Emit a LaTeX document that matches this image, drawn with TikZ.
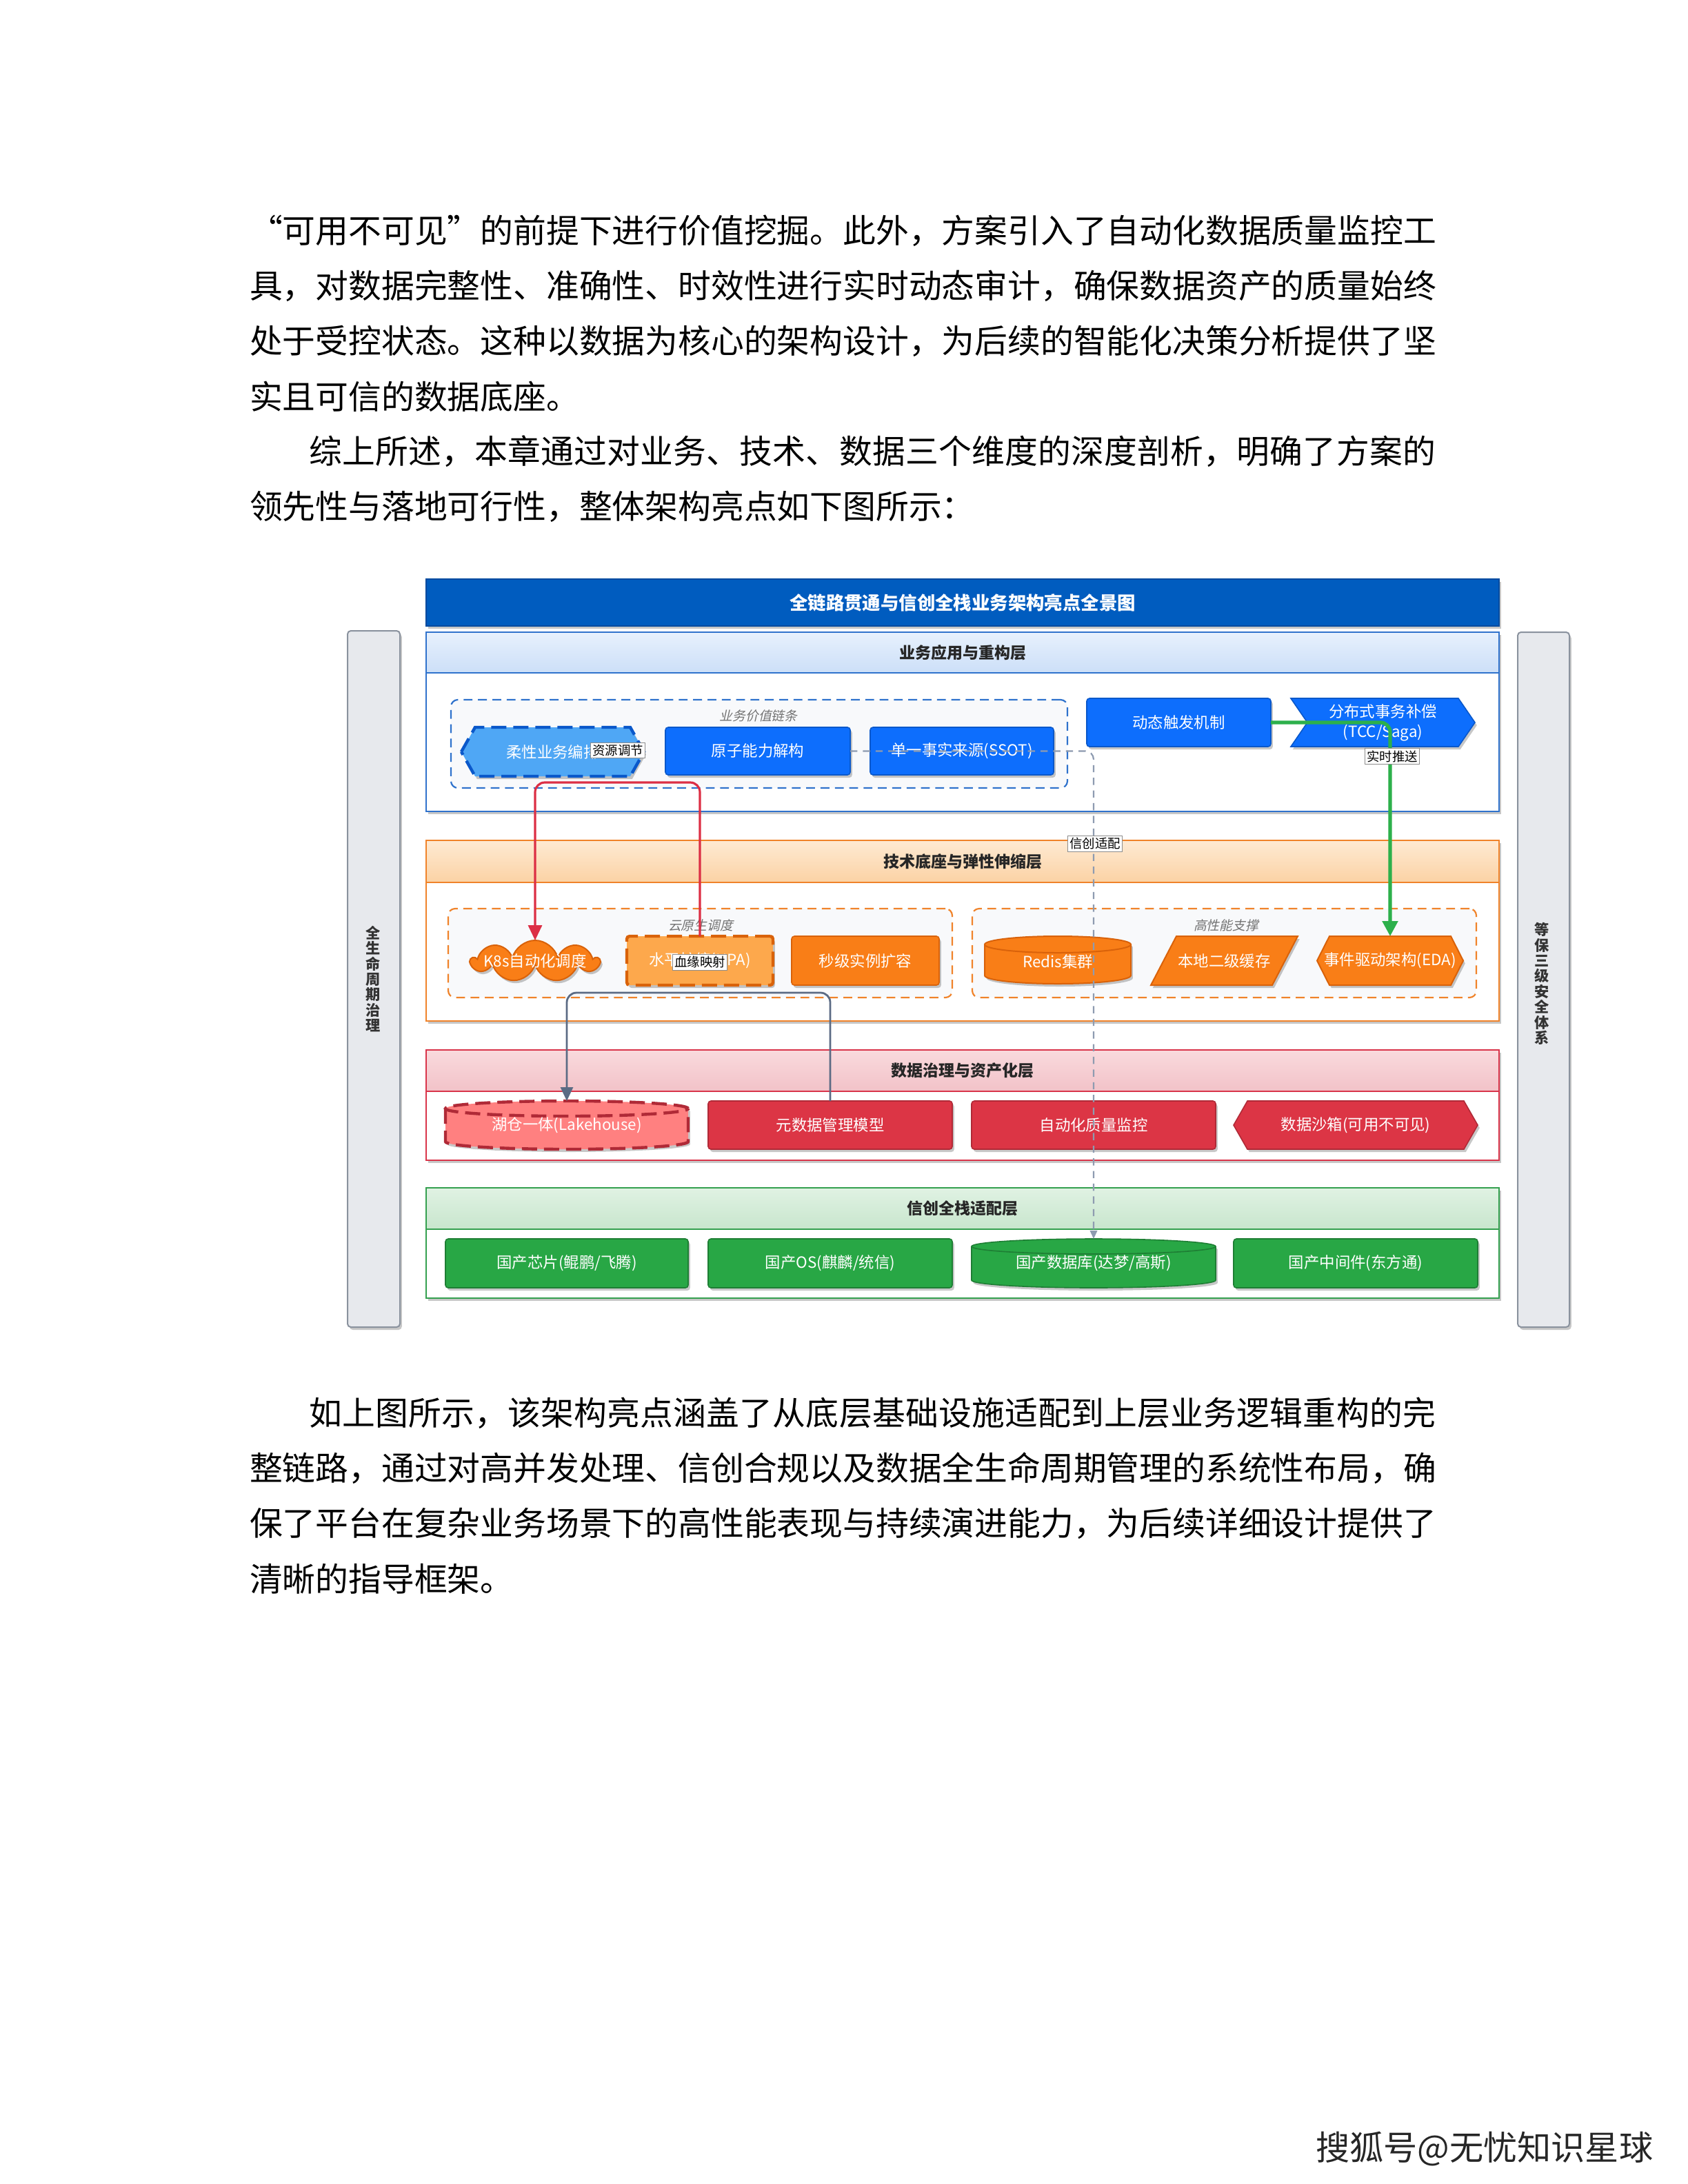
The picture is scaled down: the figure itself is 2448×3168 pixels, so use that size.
\documentclass[tikz,border=0pt]{standalone}
\usepackage{fontspec}
\setmainfont{Noto Sans CJK SC}
\newfontfamily\slantf{Noto Sans CJK SC}[FakeSlant=0.22]
\usetikzlibrary{shapes.symbols,shadows,arrows.meta,calc}
\definecolor{tblue}{HTML}{005CBF}
\definecolor{tbluedk}{HTML}{004A9E}
\definecolor{nblue}{HTML}{0D6EFD}
\definecolor{nbluedk}{HTML}{0A58CA}
\definecolor{lblue}{HTML}{4FA7F5}
\definecolor{hbtop}{HTML}{E7F1FD}
\definecolor{hbbot}{HTML}{CCDFF8}
\definecolor{hbline}{HTML}{2F72CC}
\definecolor{norange}{HTML}{F97E17}
\definecolor{norangedk}{HTML}{D9620A}
\definecolor{lorange}{HTML}{FDA84C}
\definecolor{hotop}{HTML}{FEEAD3}
\definecolor{hobot}{HTML}{FBD2A4}
\definecolor{holine}{HTML}{F0832A}
\definecolor{nred}{HTML}{DC3545}
\definecolor{nreddk}{HTML}{B02A37}
\definecolor{lred}{HTML}{FF8080}
\definecolor{hrtop}{HTML}{F9DADD}
\definecolor{hrbot}{HTML}{F2C2C8}
\definecolor{hrline}{HTML}{D9344A}
\definecolor{ngreen}{HTML}{28A745}
\definecolor{ngreendk}{HTML}{1E7E34}
\definecolor{hgtop}{HTML}{E0F2E3}
\definecolor{hgbot}{HTML}{C8E6CD}
\definecolor{hgline}{HTML}{34A04F}
\definecolor{sidefill}{HTML}{E7E9ED}
\definecolor{sideline}{HTML}{8A929E}
\definecolor{grpfill}{HTML}{F8F9FB}
\definecolor{slate}{HTML}{5B6B84}
\definecolor{dgray}{HTML}{8E9BB0}
\definecolor{egreen}{HTML}{2DB04B}
\definecolor{ered}{HTML}{DC2F45}
\def\jusx#1{\ifx\relax#1\else#1\hspace{0pt plus 1fil}\expandafter\jusx\fi}
\newcommand\jl[2]{\makebox[#1][s]{\jusx#2\relax\unskip}}
\newcommand\hexshape[6]{%
  \pgfmathsetmacro\ymid{(#2+#4)/2}%
  \path[#6] (#1,\ymid) -- (#1+#5,#2) -- (#3-#5,#2) -- (#3,\ymid) -- (#3-#5,#4) -- (#1+#5,#4) -- cycle;}
\newcommand\chevshape[6]{%
  \pgfmathsetmacro\ymid{(#2+#4)/2}%
  \path[#6] (#1,#2) -- (#3-#5,#2) -- (#3,\ymid) -- (#3-#5,#4) -- (#1,#4) -- (#1+#5,\ymid) -- cycle;}
\newcommand\parashape[6]{%
  \path[#6] (#1+#5,#2) -- (#3,#2) -- (#3-#5,#4) -- (#1,#4) -- cycle;}
\newcommand\cylshape[7]{%
  \pgfmathsetmacro\cxa{(#1+#3)/2}\pgfmathsetmacro\rxa{(#3-#1)/8}\pgfmathsetmacro\rya{#5/4}%
  \pgfmathsetmacro\yta{#2+#5}\pgfmathsetmacro\yba{#4-#5}%
  \fill[#6] (#1,\yta) -- (#1,\yba) arc[start angle=180,end angle=360,x radius=\rxa pt,y radius=\rya pt] -- (#3,\yta) arc[start angle=0,end angle=180,x radius=\rxa pt,y radius=\rya pt] -- cycle;
  \draw[#7] (#1,\yta) -- (#1,\yba) arc[start angle=180,end angle=360,x radius=\rxa pt,y radius=\rya pt] -- (#3,\yta);
  \draw[#7] (\cxa,\yta) ellipse[x radius=\rxa pt,y radius=\rya pt];}
\tikzset{
  every node/.style={inner sep=0pt,outer sep=0pt},
  shd/.style={drop shadow={shadow xshift=0.7pt,shadow yshift=-1pt,opacity=0.22,fill=black}},
  ntxt/.style={text=white,font=\fontsize{5.6pt}{7.25pt}\selectfont,align=center},
  nbox/.style={ntxt,shd,rounded corners=1pt,line width=0.4pt,minimum height=17.5pt},
  bluebox/.style={nbox,fill=nblue,draw=nbluedk},
  orgbox/.style={nbox,fill=norange,draw=norangedk},
  redbox/.style={nbox,fill=nred,draw=nreddk},
  grnbox/.style={nbox,fill=ngreen,draw=ngreendk},
  hollow/.style={ntxt,minimum height=17.5pt},
  layerbox/.style={shd,fill=white,line width=0.5pt,minimum width=389pt},
  hdr/.style={font=\bfseries\fontsize{5.75pt}{7pt}\selectfont,text=black!85,line width=0.5pt,minimum width=389pt},
  grp/.style={rounded corners=2.5pt,fill=grpfill,line width=0.55pt,dash pattern=on 3.2pt off 2pt},
  grplbl/.style={font=\slantf\fontsize{4.7pt}{5.5pt}\selectfont,text=black!55},
  elbl/.style={fill=white,draw=black!45,line width=0.3pt,inner sep=0.7pt,font=\fontsize{4.6pt}{5.5pt}\selectfont,text=black},
  sidebar/.style={shd,fill=sidefill,draw=sideline,line width=0.5pt,rounded corners=1.2pt},
  sidetxt/.style={font=\bfseries\fontsize{5.3pt}{5.6pt}\selectfont,text=black!80,align=center},
  body/.style={anchor=west,font=\fontsize{11.95pt}{14pt}\selectfont,text=black},
}
\begin{document}
\begin{tikzpicture}[x=0.25pt,y=-0.25pt]
\useasboundingbox[fill=white] (0,0) rectangle (2448,3168);

% ---------- text above ----------
\node[body] (p1) at (362,335) {\makebox[1em][r]{“}可用不可见\makebox[1em][l]{”}的前提下进行价值挖掘。此外，方案引入了自动化数据质量监控工};
\node[body] (p2) at (362,415) {具，对数据完整性、准确性、时效性进行实时动态审计，确保数据资产的质量始终};
\node[body] (p3) at (362,495) {处于受控状态。这种以数据为核心的架构设计，为后续的智能化决策分析提供了坚};
\node[body] (p4) at (362,575) {实且可信的数据底座。};
\node[body] (p5) at (448,655) {\jl{408.5pt}{综上所述，本章通过对业务、技术、数据三个维度的深度剖析，明确了方案的}};
\node[body] (p6) at (362,735) {领先性与落地可行性，整体架构亮点如下图所示：};

% ---------- side bars ----------
\node[sidebar,minimum width=19pt,minimum height=252.5pt] (lbar) at (542,1420) {};
\node[sidetxt] (lbart) at (541,1420) {全\\生\\命\\周\\期\\治\\理};
\node[sidebar,minimum width=18.75pt,minimum height=252pt] (rbar) at (2238.5,1421) {};
\node[sidetxt] (rbart) at (2236,1427) {等\\保\\三\\级\\安\\全\\体\\系};

% ---------- title ----------
\node[fill=tblue,draw=tbluedk,line width=0.5pt,shd,minimum width=389pt,minimum height=17pt,text=white,font=\bfseries\fontsize{6.6pt}{8pt}\selectfont] (T) at (1396,874) {全链路贯通与信创全栈业务架构亮点全景图};

% ---------- layer 1 ----------
\node[layerbox,draw=hbline,minimum height=65pt] (L1) at (1396,1047) {};
\node[hdr,draw=hbline,top color=hbtop,bottom color=hbbot,minimum height=14.75pt] (H1) at (1396,946.5) {业务应用与重构层};
\node[grp,draw=hbline,minimum width=223.5pt,minimum height=32pt] (G1) at (1101,1079) {};
\node[grplbl] (G1l) at (1100,1038) {业务价值链条};
\hexshape{669}{1055}{934}{1126}{20}{fill=lblue,draw=nbluedk,line width=1.1pt,dash pattern=on 5.5pt off 2.5pt,shd}
\node[hollow,minimum width=66.25pt] (rx) at (801.5,1090.5) {柔性业务编排};
\node[bluebox,minimum width=67pt,minimum height=17.25pt] (yz) at (1099,1089.5) {原子能力解构};
\node[bluebox,minimum width=66.5pt,minimum height=17.25pt] (ss) at (1395,1089.5) {单一事实来源(SSOT)};
\node[bluebox,minimum width=66.75pt] (dt) at (1709.5,1048) {动态触发机制};
\chevshape{1872}{1013}{2139}{1083}{24}{fill=nblue,draw=nbluedk,line width=0.4pt,shd}
\node[hollow,minimum width=66.75pt] (fb) at (2005.5,1048) {分布式事务补偿\\(TCC/Saga)};

% ---------- layer 2 ----------
\node[layerbox,draw=holine,minimum height=65.5pt] (L2) at (1396,1350) {};
\node[hdr,draw=holine,top color=hotop,bottom color=hobot,minimum height=15.25pt] (H2) at (1396,1249.5) {技术底座与弹性伸缩层};
\node[grp,draw=holine,minimum width=182.75pt,minimum height=32.25pt] (G2) at (1015.5,1382.5) {};
\node[grplbl] (G2l) at (1016,1342) {云原生调度};
\node[grp,draw=holine,minimum width=182.75pt,minimum height=32.25pt] (G3) at (1775.5,1382.5) {};
\node[grplbl] (G3l) at (1778,1342) {高性能支撑};
\node[cloud,cloud puffs=9,aspect=2.6,fill=norange,draw=norangedk,line width=0.5pt,shd,minimum width=46pt,minimum height=15pt] (k8s) at (776,1394) {};
\node[ntxt] (k8st) at (776,1394) {K8s自动化调度};
\node[ntxt,shd,fill=lorange,draw=norangedk,line width=1.1pt,dash pattern=on 5.5pt off 2.5pt,rounded corners=1pt,minimum width=53pt,minimum height=17.75pt] (hpa) at (1015,1393.5) {水平扩缩(HPA)};
\node[orgbox,minimum width=53.5pt,minimum height=17.75pt] (mj) at (1255,1393.5) {秒级实例扩容};
\cylshape{1428}{1358}{1640}{1427}{12}{norange,shd}{draw=norangedk,line width=0.5pt}
\node[hollow,minimum width=53pt,minimum height=17.25pt] (rd) at (1534,1395) {Redis集群};
\parashape{1669}{1358}{1882}{1429}{37}{fill=norange,draw=norangedk,line width=0.5pt,shd}
\node[hollow,minimum width=53.25pt,minimum height=17.75pt] (bd) at (1775.5,1393.5) {本地二级缓存};
\hexshape{1910}{1358}{2122}{1429}{18}{fill=norange,draw=norangedk,line width=0.5pt,shd}
\node[hollow,minimum width=53pt,minimum height=17.75pt] (eda) at (2016,1393.5) {事件驱动架构(EDA)};

% ---------- layer 3 ----------
\node[layerbox,draw=hrline,minimum height=40pt] (L3) at (1396,1603) {};
\node[hdr,draw=hrline,top color=hrtop,bottom color=hrbot,minimum height=15pt] (H3) at (1396,1553) {数据治理与资产化层};
\cylshape{646}{1597}{998}{1667}{11}{lred,shd}{draw=nreddk,line width=1.1pt,dash pattern=on 5.5pt off 2.5pt}
\node[hollow,minimum width=88pt] (lh) at (822,1632) {湖仓一体(Lakehouse)};
\node[redbox,minimum width=88.5pt] (md) at (1204,1632) {元数据管理模型};
\node[redbox,minimum width=88.5pt] (aq) at (1586,1632) {自动化质量监控};
\hexshape{1789}{1597}{2143}{1667}{20}{fill=nred,draw=nreddk,line width=0.4pt,shd}
\node[hollow,minimum width=88.5pt] (sb) at (1966,1632) {数据沙箱(可用不可见)};

% ---------- layer 4 ----------
\node[layerbox,draw=hgline,minimum height=40pt] (L4) at (1396,1803) {};
\node[hdr,draw=hgline,top color=hgtop,bottom color=hgbot,minimum height=15pt] (H4) at (1396,1753) {信创全栈适配层};
\node[grnbox,minimum width=88pt,minimum height=17.75pt] (cp) at (822,1832.5) {国产芯片(鲲鹏/飞腾)};
\node[grnbox,minimum width=88.5pt,minimum height=17.75pt] (os) at (1204,1832.5) {国产OS(麒麟/统信)};
\cylshape{1409}{1797}{1763}{1868}{11}{ngreen,shd}{draw=ngreendk,line width=0.4pt}
\node[hollow,minimum width=88.5pt,minimum height=17.75pt] (db) at (1586,1832.5) {国产数据库(达梦/高斯)};
\node[grnbox,minimum width=88.5pt,minimum height=17.75pt] (mw) at (1966,1832.5) {国产中间件(东方通)};

% ---------- connectors ----------
\draw[ered,line width=0.8pt,rounded corners=3.5pt,-{Triangle[length=5.5pt,width=5pt]}]
  (hpa.north) -- (hpa.north |- 0,1135) -| (k8s.north);
\draw[slate,line width=0.7pt,rounded corners=3.5pt,-{Triangle[length=5pt,width=4.5pt]}]
  (md.north) -- (md.north |- 0,1440) -| (lh.north);
\draw[egreen,line width=1.3pt,rounded corners=3.5pt,-{Triangle[length=5.5pt,width=5.5pt]}]
  (dt.east) -| (eda.north);
\draw[dgray,line width=0.55pt,dash pattern=on 2.6pt off 2pt,rounded corners=3pt,-{Triangle[length=3pt,width=2.6pt]}]
  (yz.east) -| (db.north);

% ---------- connector labels ----------
\node[elbl] (lb1) at (896,1088.5) {资源调节};
\node[elbl] (lb2) at (1015,1396) {血缘映射};
\node[elbl] (lb3) at (2019,1097) {实时推送};
\node[elbl] (lb4) at (1588,1224) {信创适配};

% ---------- text below ----------
\node[body] (q1) at (448,2050) {\jl{408.5pt}{如上图所示，该架构亮点涵盖了从底层基础设施适配到上层业务逻辑重构的完}};
\node[body] (q2) at (362,2130) {\jl{430pt}{整链路，通过对高并发处理、信创合规以及数据全生命周期管理的系统性布局，确}};
\node[body] (q3) at (362,2210) {保了平台在复杂业务场景下的高性能表现与持续演进能力，为后续详细设计提供了};
\node[body] (q4) at (362,2290) {清晰的指导框架。};

% ---------- footer ----------
\node[anchor=west,font=\fontsize{12.3pt}{14pt}\selectfont,text=black!85] (ft) at (1908,3117) {搜狐号@无忧知识星球};
\end{tikzpicture}
\end{document}
